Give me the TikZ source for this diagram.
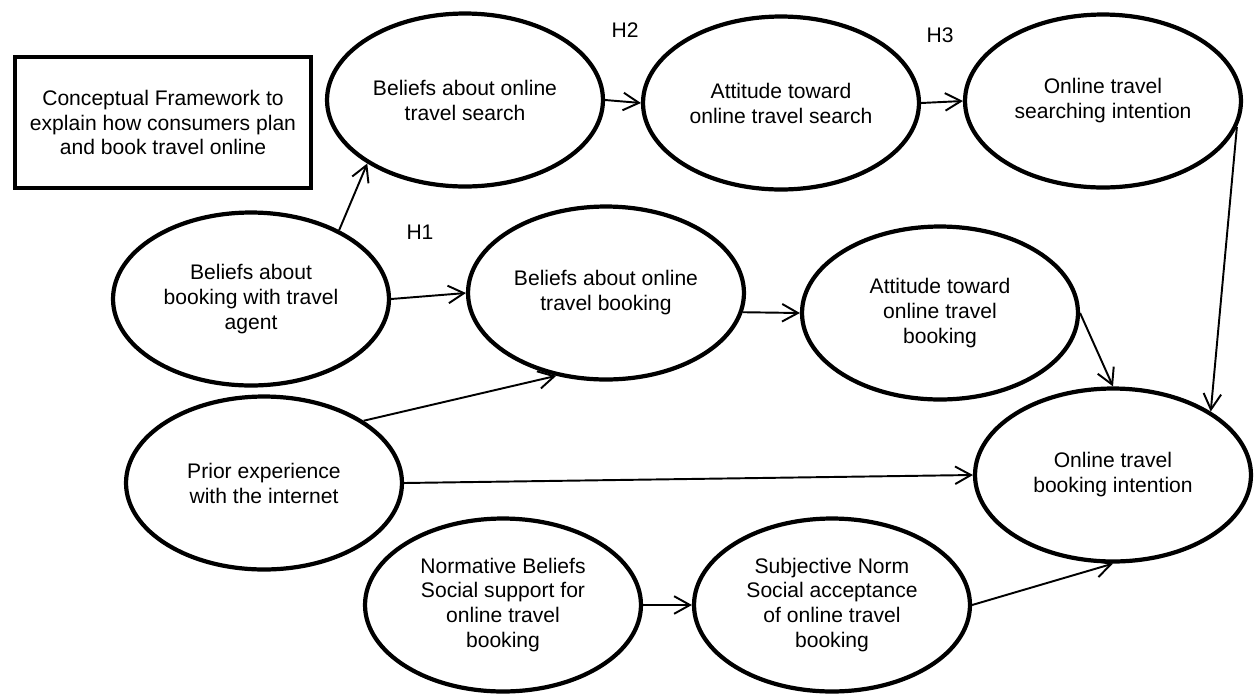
\documentclass[tikz,border=0pt]{standalone}
\usepackage{fontspec}
\setmainfont{Liberation Sans}
\usetikzlibrary{shapes.geometric,arrows.meta}
\newcommand{\txtfont}{\fontsize{12}{14.2}\selectfont}

\begin{document}
\begin{tikzpicture}[x=0.02cm,y=-0.02cm,
    construct/.style={ellipse,draw,line width=2.4pt,minimum width=5.52cm,
      minimum height=3.46cm,inner sep=0pt,align=center,font=\txtfont},
    titlebox/.style={rectangle,draw,line width=2.2pt,minimum width=5.92cm,
      minimum height=2.62cm,align=center,font=\txtfont},
    hyp/.style={font=\txtfont},
    link/.style={line width=1.1pt,-{Straight Barb[length=9pt,width=10pt]}}]

    \useasboundingbox (0,0) rectangle (1255,694);

    % title
    \node[titlebox] (title) at (163,122.5)
      {Conceptual Framework to\\explain how consumers plan\\and book travel online};

    % top row: search
    \node[construct] (bsearch) at (465,100) {Beliefs about online\\travel search};
    \node[construct] (asearch) at (781,103) {Attitude toward\\online travel search};
    \node[construct] (isearch) at (1103,101) {Online travel\\searching intention};

    % middle rows: booking
    \node[construct] (bagent) at (251,299) {Beliefs about\\booking with travel\\agent};
    \node[construct] (bbook) at (606,293) {Beliefs about online\\travel booking};
    \node[construct] (abook) at (940,313) {Attitude toward\\online travel\\booking};
    \node[construct] (prior) at (264,483) {Prior experience\\with the internet};
    \node[construct] (ibook) at (1113,475) {Online travel\\booking intention};

    % bottom row: norms
    \node[construct] (norm) at (503,605)
      {Normative Beliefs\\Social support for\\online travel\\booking};
    \node[construct] (subj) at (832,605)
      {Subjective Norm\\Social acceptance\\of online travel\\booking};

    % hypotheses
    \node[hyp] (h1) at (420,232) {H1};
    \node[hyp] (h2) at (625,30) {H2};
    \node[hyp] (h3) at (940,35) {H3};

    \draw[link] (bagent.38) -- (bsearch.213);
    \draw[link] (bagent.east) -- (bbook.west);
    \draw[link] (bsearch.east) -- (asearch.west);
    \draw[link] (asearch.east) -- (isearch.west);
    \draw[link] (isearch.-11) -- (ibook.33);
    \draw[link] (bbook.-8) -- (abook.west);
    \draw[link] (abook.east) -- (ibook.north);
    \draw[link] (prior.32) -- (bbook.239);
    \draw[link] (prior.east) -- (ibook.west);
    \draw[link] (norm.east) -- (subj.west);
    \draw[link] (subj.east) -- (ibook.south);
\end{tikzpicture}
\end{document}
